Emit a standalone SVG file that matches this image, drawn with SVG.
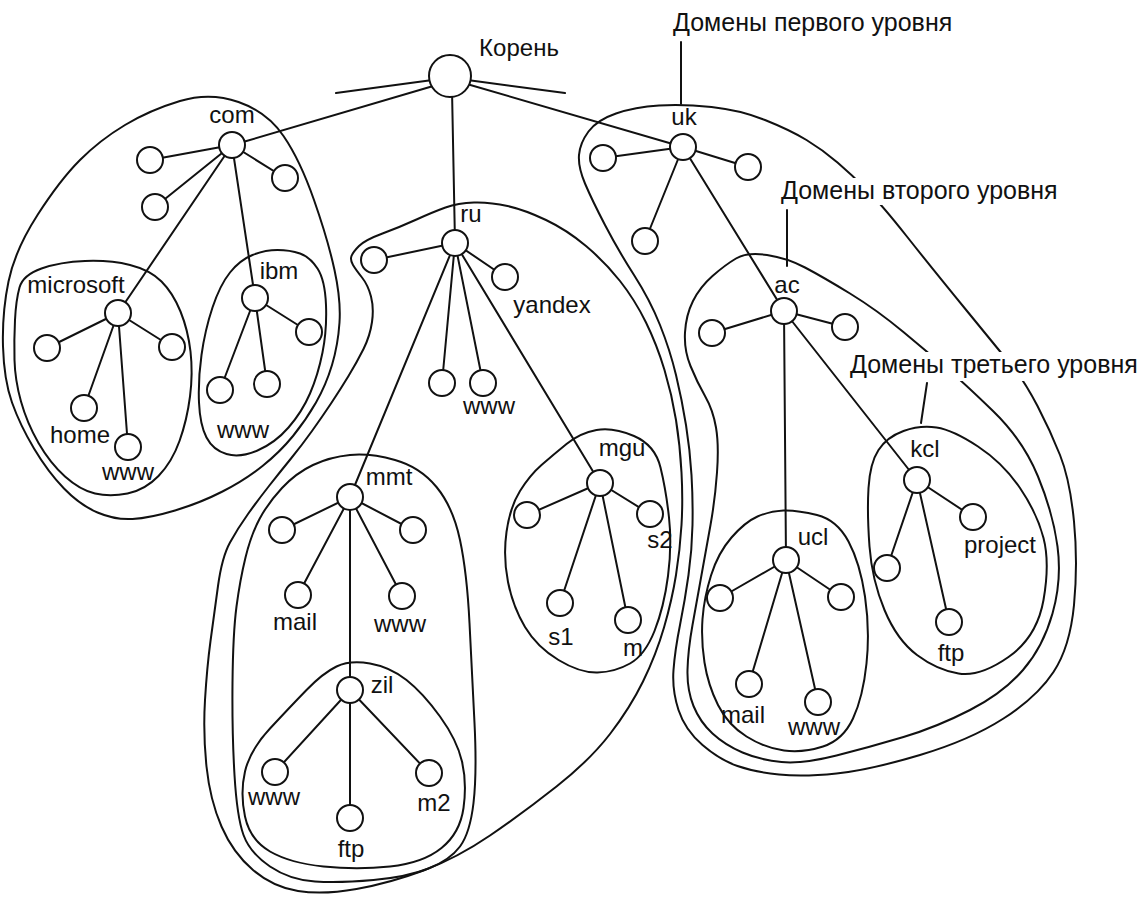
<svg xmlns="http://www.w3.org/2000/svg" width="1137" height="911" viewBox="0 0 1137 911">
<style>
.reg{fill:none;stroke:#111;stroke-width:2}
.e{stroke:#111;stroke-width:2;fill:none;stroke-linecap:round}
circle{fill:#fff;stroke:#111;stroke-width:2}
text{font-family:"Liberation Sans",Arial,sans-serif;font-size:24px;fill:#111;text-anchor:middle}
.cap{font-size:25px;text-anchor:start}
.bg{fill:#fff;stroke:none}
</style>
<rect width="1137" height="911" fill="#fff"/>
<g id="regions">
<path class="reg" id="reg-com" d="M180,101 Q210,92 238.5,102 Q267,112 283.5,136 Q300,160 314,200 Q328,240 334.5,270 Q341,300 339.5,322.5 Q338,345 332,365 Q326,385 316,402.5 Q306,420 293,436 Q280,452 262.5,466 Q245,480 222.5,491.5 Q200,503 175,510.5 Q150,518 132.5,519 Q115,520 97.5,512.5 Q80,505 64,488.5 Q48,472 34,448.5 Q20,425 12,402.5 Q4,380 3,346.5 Q2,313 8.5,281.5 Q15,250 37.5,215 Q60,180 80,160 Q100,140 125,125 Q150,110 180,101 Z"/>
<path class="reg" id="reg-microsoft" d="M19.5,287.5 Q23,275 41.5,268.5 Q60,262 85,261 Q110,260 130,265 Q150,270 161.5,281.5 Q173,293 180.5,311.5 Q188,330 190.5,351.5 Q193,373 190,396.5 Q187,420 179.5,441 Q172,462 158.5,476 Q145,490 127.5,493.5 Q110,497 95,493.5 Q80,490 65,476.5 Q50,463 38.5,443 Q27,423 21,401.5 Q15,380 14.5,360 Q14,340 15,320 Q16,300 19.5,287.5 Z"/>
<path class="reg" id="reg-ibm" d="M252.5,255 Q265,250 277.5,250 Q290,250 300,253.5 Q310,257 317.5,268.5 Q325,280 326,305 Q327,330 322.5,352.5 Q318,375 310,393.5 Q302,412 288.5,427.5 Q275,443 257.5,450.5 Q240,458 226.5,454 Q213,450 206.5,437.5 Q200,425 199,402.5 Q198,380 201.5,355 Q205,330 212.5,307.5 Q220,285 230,272.5 Q240,260 252.5,255 Z"/>
<path class="reg" id="reg-ru" d="M351.5,256 Q353,252 359,246 Q365,240 382.5,233.5 Q400,227 416.5,219.5 Q433,212 445.5,207.5 Q458,203 474,202.5 Q490,202 507.5,206 Q525,210 546,220 Q567,230 586,246 Q605,262 620,281 Q635,300 646,322.5 Q657,345 664.5,370 Q672,395 676,420 Q680,445 681.5,472.5 Q683,500 681.5,525 Q680,550 676,575 Q672,600 664,627.5 Q656,655 643,681.5 Q630,708 610,734 Q590,760 556.5,786.5 Q523,813 490,835.5 Q457,858 423.5,870.5 Q390,883 356.5,889 Q323,895 298,891 Q273,887 253,870 Q233,853 221.5,826.5 Q210,800 206.5,766.5 Q203,733 205,700 Q207,667 210.5,641 Q214,615 218,586 Q222,557 230,542.5 Q238,528 248,514 Q258,500 269,486 Q280,472 291,458.5 Q302,445 312,431 Q322,417 331,403.5 Q340,390 348.5,376 Q357,362 363.5,349 Q370,336 372,322 Q374,308 371,296.5 Q368,285 362,277.5 Q356,270 353,265 Q350,260 351.5,256 Z"/>
<path class="reg" id="reg-mmt" d="M313,465 Q330,457 350,455 Q370,453 395,460 Q420,467 436.5,487 Q453,507 460,540 Q467,573 469.5,623 Q472,673 474.5,723 Q477,773 473.5,803 Q470,833 460,846.5 Q450,860 428.5,868.5 Q407,877 373.5,880 Q340,883 315,881.5 Q290,880 270,866.5 Q250,853 243.5,835 Q237,817 234.5,775 Q232,733 232.5,683 Q233,633 236.5,606.5 Q240,580 245.5,557.5 Q251,535 259.5,519 Q268,503 282,488 Q296,473 313,465 Z"/>
<path class="reg" id="reg-zil" d="M336.5,666.5 Q350,660 370,663.5 Q390,667 406.5,680 Q423,693 440,716.5 Q457,740 462,761.5 Q467,783 463.5,808 Q460,833 441.5,848 Q423,863 390,866.5 Q357,870 323.5,866.5 Q290,863 270,851.5 Q250,840 245,816.5 Q240,793 245,771.5 Q250,750 270,728.5 Q290,707 306.5,690 Q323,673 336.5,666.5 Z"/>
<path class="reg" id="reg-mgu" d="M596.5,430 Q613,427 634,436 Q655,445 660.5,467.5 Q666,490 669,517.5 Q672,545 668,576 Q664,607 654.5,631 Q645,655 630,663.5 Q615,672 597.5,672.5 Q580,673 558.5,660 Q537,647 525,627 Q513,607 508,582 Q503,557 506.5,532 Q510,507 520,491 Q530,475 541.5,465 Q553,455 566.5,444 Q580,433 596.5,430 Z"/>
<path class="reg" id="reg-uk" d="M659,105.5 Q683,104 711.5,107 Q740,110 765,120 Q790,130 806.5,140 Q823,150 837.5,162.5 Q852,175 867,190 Q882,205 906.5,236 Q931,267 967,311 Q1003,355 1014,368.5 Q1025,382 1037.5,406 Q1050,430 1060,455 Q1070,480 1074,521.5 Q1078,563 1074,605 Q1070,647 1053.5,672 Q1037,697 1003.5,718.5 Q970,740 920,755 Q870,770 836.5,773.5 Q803,777 779,774.5 Q755,772 737.5,766 Q720,760 702.5,745 Q685,730 678.5,710 Q672,690 673.5,670 Q675,650 680,625 Q685,600 688.5,575 Q692,550 692.5,525 Q693,500 691.5,475 Q690,450 686,425 Q682,400 676,375 Q670,350 660,325 Q650,300 634,275 Q618,250 605,225 Q592,200 585,183.5 Q578,167 579,155 Q580,143 588.5,131.5 Q597,120 616,113.5 Q635,107 659,105.5 Z"/>
<path class="reg" id="reg-ac" d="M736,258.5 Q747,252 767,255 Q787,258 805,267.5 Q823,277 850,293.5 Q877,310 904,332.5 Q931,355 947,368.5 Q963,382 993,411 Q1023,440 1038,476.5 Q1053,513 1057.5,546.5 Q1062,580 1052.5,613.5 Q1043,647 1023,670 Q1003,693 970,710 Q937,727 903.5,737 Q870,747 836.5,755.5 Q803,764 781.5,762 Q760,760 742.5,752.5 Q725,745 712.5,733.5 Q700,722 693.5,706 Q687,690 687.5,670 Q688,650 692.5,625 Q697,600 701.5,575 Q706,550 710.5,525 Q715,500 717,472.5 Q719,445 716,427.5 Q713,410 705,396 Q697,382 690.5,366 Q684,350 685,332.5 Q686,315 693,301 Q700,287 712.5,276 Q725,265 736,258.5 Z"/>
<path class="reg" id="reg-kcl" d="M903.5,431 Q920,425 936.5,427.5 Q953,430 978,446.5 Q1003,463 1020,488 Q1037,513 1043.5,538 Q1050,563 1043.5,600 Q1037,637 1008.5,657 Q980,677 958.5,673.5 Q937,670 917,655 Q897,640 884.5,610 Q872,580 869.5,546.5 Q867,513 868.5,488 Q870,463 878.5,450 Q887,437 903.5,431 Z"/>
<path class="reg" id="reg-ucl" d="M783.5,510.5 Q797,510 817,515 Q837,520 848.5,541.5 Q860,563 865,596.5 Q870,630 866.5,663.5 Q863,697 853,718.5 Q843,740 823,746.5 Q803,753 784,750.5 Q765,748 746.5,736.5 Q728,725 718,705 Q708,685 704.5,662.5 Q701,640 702.5,619 Q704,598 711,575.5 Q718,553 731.5,537.5 Q745,522 757.5,516.5 Q770,511 783.5,510.5 Z"/>
</g>
<g id="connectors">
<line class="e" x1="336" y1="93" x2="440" y2="79"/>
<line class="e" x1="440" y1="84" x2="243" y2="142"/>
<line class="e" x1="460" y1="79" x2="565" y2="93"/>
<line class="e" x1="460" y1="82" x2="683" y2="147"/>
<line class="e" x1="452" y1="90" x2="455" y2="243"/>
<path class="e" d="M232,145L150,160M232,145L155,207M232,145L285,178M232,145L118,313M232,145L255,298"/>
<path class="e" d="M118,313L47,348M118,313L172,347M118,313L84,408M118,313L128,447"/>
<path class="e" d="M255,298L309,332M255,298L220,390M255,298L267,384"/>
<path class="e" d="M455,243L374,260M455,243L505,277M455,243L442,383M455,243L483,383M455,243L350,497M455,243L600,483"/>
<path class="e" d="M350,497L282,530M350,497L413,530M350,497L298,595M350,497L402,596M350,497L350,690"/>
<path class="e" d="M350,690L275,772M350,690L429,773M350,690L350,818"/>
<path class="e" d="M600,483L527,515M600,483L650,514M600,483L560,603M600,483L628,620"/>
<path class="e" d="M683,147L603,158M683,147L748,167M683,147L645,241M683,147L784,311"/>
<path class="e" d="M784,311L712,333M784,311L845,327M784,311L917,480M784,311L786,560"/>
<path class="e" d="M917,480L887,568M917,480L973,517M917,480L949,622"/>
<path class="e" d="M786,560L720,598M786,560L841,597M786,560L749,684M786,560L818,702"/>
</g>
<g id="node-root"><circle cx="450" cy="76" r="21"/><text x="519" y="56">Корень</text></g>
<g id="node-com"><circle cx="232" cy="145" r="13"/><text x="232" y="123">com</text></g>
<g id="node-com-1"><circle cx="150" cy="160" r="13"/></g>
<g id="node-com-2"><circle cx="155" cy="207" r="13"/></g>
<g id="node-com-3"><circle cx="285" cy="178" r="13"/></g>
<g id="node-microsoft"><circle cx="118" cy="313" r="13"/><text x="76" y="293">microsoft</text></g>
<g id="node-ms-1"><circle cx="47" cy="348" r="13"/></g>
<g id="node-ms-2"><circle cx="172" cy="347" r="13"/></g>
<g id="node-ms-home"><circle cx="84" cy="408" r="13"/><text x="80" y="443">home</text></g>
<g id="node-ms-www"><circle cx="128" cy="447" r="13"/><text x="128" y="480">www</text></g>
<g id="node-ibm"><circle cx="255" cy="298" r="13"/><text x="279" y="279">ibm</text></g>
<g id="node-ibm-1"><circle cx="309" cy="332" r="13"/></g>
<g id="node-ibm-www"><circle cx="220" cy="390" r="13"/><text x="243" y="438">www</text></g>
<g id="node-ibm-2"><circle cx="267" cy="384" r="13"/></g>
<g id="node-ru"><circle cx="455" cy="243" r="13"/><text x="471" y="222">ru</text></g>
<g id="node-ru-1"><circle cx="374" cy="260" r="13"/></g>
<g id="node-ru-yandex"><circle cx="505" cy="277" r="13"/><text x="552" y="313">yandex</text></g>
<g id="node-ru-2"><circle cx="442" cy="383" r="13"/></g>
<g id="node-ru-www"><circle cx="483" cy="383" r="13"/><text x="489" y="414">www</text></g>
<g id="node-mmt"><circle cx="350" cy="497" r="13"/><text x="389" y="485">mmt</text></g>
<g id="node-mmt-1"><circle cx="282" cy="530" r="13"/></g>
<g id="node-mmt-2"><circle cx="413" cy="530" r="13"/></g>
<g id="node-mmt-mail"><circle cx="298" cy="595" r="13"/><text x="295" y="630">mail</text></g>
<g id="node-mmt-www"><circle cx="402" cy="596" r="13"/><text x="400" y="632">www</text></g>
<g id="node-zil"><circle cx="350" cy="690" r="13"/><text x="382" y="693">zil</text></g>
<g id="node-zil-www"><circle cx="275" cy="772" r="13"/><text x="274" y="805">www</text></g>
<g id="node-zil-m2"><circle cx="429" cy="773" r="13"/><text x="434" y="811">m2</text></g>
<g id="node-zil-ftp"><circle cx="350" cy="818" r="13"/><text x="351" y="857">ftp</text></g>
<g id="node-mgu"><circle cx="600" cy="483" r="13"/><text x="622" y="456">mgu</text></g>
<g id="node-mgu-1"><circle cx="527" cy="515" r="13"/></g>
<g id="node-mgu-s2"><circle cx="650" cy="514" r="13"/><text x="660" y="548">s2</text></g>
<g id="node-mgu-s1"><circle cx="560" cy="603" r="13"/><text x="561" y="645">s1</text></g>
<g id="node-mgu-m"><circle cx="628" cy="620" r="13"/><text x="633" y="656">m</text></g>
<g id="node-uk"><circle cx="683" cy="147" r="13"/><text x="684" y="125">uk</text></g>
<g id="node-uk-1"><circle cx="603" cy="158" r="13"/></g>
<g id="node-uk-2"><circle cx="748" cy="167" r="13"/></g>
<g id="node-uk-3"><circle cx="645" cy="241" r="13"/></g>
<g id="node-ac"><circle cx="784" cy="311" r="13"/><text x="787" y="293">ac</text></g>
<g id="node-ac-1"><circle cx="712" cy="333" r="13"/></g>
<g id="node-ac-2"><circle cx="845" cy="327" r="13"/></g>
<g id="node-kcl"><circle cx="917" cy="480" r="13"/><text x="925" y="457">kcl</text></g>
<g id="node-kcl-1"><circle cx="887" cy="568" r="13"/></g>
<g id="node-kcl-project"><circle cx="973" cy="517" r="13"/><text x="1000" y="553">project</text></g>
<g id="node-kcl-ftp"><circle cx="949" cy="622" r="13"/><text x="951" y="661">ftp</text></g>
<g id="node-ucl"><circle cx="786" cy="560" r="13"/><text x="813" y="545">ucl</text></g>
<g id="node-ucl-1"><circle cx="720" cy="598" r="13"/></g>
<g id="node-ucl-2"><circle cx="841" cy="597" r="13"/></g>
<g id="node-ucl-mail"><circle cx="749" cy="684" r="13"/><text x="743" y="723">mail</text></g>
<g id="node-ucl-www"><circle cx="818" cy="702" r="13"/><text x="814" y="735">www</text></g>
<g id="label-level1"><text class="cap" x="673" y="31">Домены первого уровня</text><line class="e" x1="681" y1="42" x2="681" y2="104"/></g>
<g id="label-level2"><rect class="bg" x="778" y="178" width="284" height="27"/><text class="cap" x="781" y="199">Домены второго уровня</text><line class="e" x1="787" y1="210" x2="787" y2="266"/></g>
<g id="label-level3"><rect class="bg" x="846" y="352" width="291" height="29"/><text class="cap" x="850" y="373">Домены третьего уровня</text><line class="e" x1="927" y1="383" x2="921" y2="423"/></g>
</svg>
